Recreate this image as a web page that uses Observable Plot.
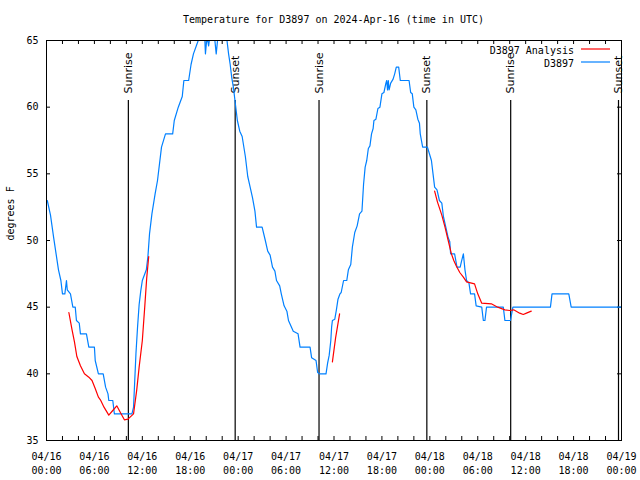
<!DOCTYPE html>
<html><head><meta charset="utf-8">
<script src="https://cdn.jsdelivr.net/npm/d3@7"></script>
<script src="https://cdn.jsdelivr.net/npm/@observablehq/plot@0.6"></script>
<style>
body{margin:0;background:#fff;}
#title{font:10px "DejaVu Sans Mono",monospace;height:20px;line-height:20px;padding-top:10px;padding-left:46px;width:575px;text-align:center;color:#000;}
</style></head><body>
<div id="title">Temperature for D3897 on 2024-Apr-16 (time in UTC)</div>
<div id="chart"></div>
<script>
// hours since 2024-04-16 00:00 UTC
const obsHours = [0.1,0.5,0.9,1.2,1.5,1.8,2.0,2.3,2.5,2.6,3.0,3.3,3.6,3.75,4.1,4.25,5.0,5.3,6.0,6.1,6.5,7.1,7.4,7.7,7.8,8.3,8.5,10.7,10.9,11.2,11.4,11.6,11.8,12.0,12.5,12.7,12.9,13.2,13.6,13.9,14.4,14.9,15.8,16.0,16.5,17.0,17.2,17.8,18.1,18.4,19.0,19.4,19.8,19.9,20.1,20.3,20.5,21.0,21.25,21.5,22.0,22.6,22.8,23.0,23.2,23.4,23.6,23.9,24.2,24.5,24.9,25.2,25.5,25.8,26.1,26.3,27.0,27.4,27.7,28.0,28.3,28.6,28.8,29.2,29.4,29.75,30.1,30.3,30.9,31.5,31.75,33.0,33.2,33.75,33.95,34.2,35.0,35.2,35.4,35.6,35.7,35.8,36.1,36.3,36.5,36.75,36.9,37.2,37.6,37.8,38.1,38.3,38.6,38.9,39.2,39.5,39.7,39.9,40.1,40.3,40.5,40.7,40.9,41.0,41.25,41.5,41.75,42.0,42.25,42.5,42.6,42.7,42.8,42.9,43.1,43.4,43.6,43.8,44.1,44.3,45.4,45.6,45.8,46.0,46.25,46.5,46.7,46.8,47.1,47.7,47.9,48.2,48.4,48.6,48.9,49.2,49.5,49.7,50.0,50.3,50.5,50.6,51.1,51.4,51.8,51.95,52.2,52.4,52.6,52.9,53.1,53.6,53.8,54.5,54.7,54.9,55.1,57.2,57.4,58.1,58.4,63.1,63.3,65.4,65.7,72.0];
const obsTemp = [53.0,51.9,50.2,49.0,47.8,47.0,46.0,46.0,47.0,46.3,46.0,45.0,45.0,44.0,43.8,43.0,43.0,42.0,42.0,41.0,40.0,40.0,39.0,38.5,38.0,38.0,37.0,37.0,37.5,41.5,43.5,45.2,46.2,47.0,47.8,48.8,50.5,52.0,53.5,54.5,57.0,58.0,58.0,59.0,60.0,60.8,62.0,62.0,63.2,64.0,65.0,65.8,65.4,64.0,65.3,64.6,65.5,65.5,64.0,65.5,66.0,65.0,64.0,63.2,62.2,61.5,60.5,59.0,58.2,57.8,56.3,54.8,54.0,53.2,52.2,51.0,51.0,50.0,49.2,48.9,48.0,47.7,47.0,46.6,46.0,45.1,44.7,44.0,43.2,43.0,42.0,42.0,41.2,41.0,40.1,40.0,40.0,40.8,41.4,42.5,43.5,44.0,44.1,44.8,45.6,46.0,46.1,47.0,47.0,47.8,48.2,49.5,50.6,51.1,52.0,52.2,54.2,55.5,56.0,56.9,57.1,58.0,58.4,59.0,59.1,59.9,60.0,61.0,61.1,61.8,62.0,61.3,62.0,61.3,61.8,62.1,62.5,63.0,63.0,62.0,62.0,61.1,61.0,60.0,59.8,59.1,58.8,58.0,57.0,57.0,56.6,56.0,55.0,54.0,53.8,53.0,52.8,51.8,51.0,50.2,49.9,49.0,49.0,48.0,48.0,48.4,49.0,47.8,47.0,46.8,46.0,46.0,45.1,45.0,44.0,44.0,45.0,45.0,44.0,44.0,45.0,45.0,46.0,46.0,45.0,45.0];

const anaHours = [2.8,3.2,3.5,3.8,4.25,4.75,5.3,5.7,6.1,6.5,6.75,7.2,7.8,8.3,8.8,9.25,9.75,10.2,10.9,11.3,11.6,12.0,12.3,12.55,12.8,
                  35.8,36.2,36.7,
                  48.6,48.95,49.5,49.9,50.3,50.7,51.0,51.3,51.75,52.2,52.6,53.6,54.0,54.5,55.7,56.5,57.4,58.0,58.5,59.25,59.7,60.1,60.7];
const anaTemp  = [44.6,43.3,42.4,41.3,40.6,40.0,39.75,39.5,38.9,38.25,38.05,37.5,36.9,37.25,37.6,37.1,36.55,36.6,37.0,38.8,40.5,42.5,45.0,47.2,48.8,
                  40.9,42.7,44.5,
                  53.7,52.9,51.9,51.0,50.0,49.0,48.5,48.1,47.6,47.25,46.9,46.75,46.0,45.3,45.25,45.0,44.8,44.75,44.8,44.55,44.45,44.55,44.7];
const anaSeg   = [1,1,1,1,1,1,1,1,1,1,1,1,1,1,1,1,1,1,1,1,1,1,1,1,1,
                  2,2,2,
                  3,3,3,3,3,3,3,3,3,3,3,3,3,3,3,3,3,3,3,3,3,3,3];

const sunHours  = [10.25, 23.625, 34.125, 47.625, 58.125, 71.625];
const sunLabels = ["Sunrise","Sunset","Sunrise","Sunset","Sunrise","Sunset"];

const xTickHours  = [0,6,12,18,24,30,36,42,48,54,60,66,72];
const xTickLabels = ["04/16\n00:00","04/16\n06:00","04/16\n12:00","04/16\n18:00","04/17\n00:00","04/17\n06:00","04/17\n12:00","04/17\n18:00","04/18\n00:00","04/18\n06:00","04/18\n12:00","04/18\n18:00","04/19\n00:00"];
const xMinorHours = d3.range(0, 73, 2);
const yTicks = [35,40,45,50,55,60,65];

const seriesNames = ["D3897 Analysis","D3897"];
const seriesColors = ["#ff0000","#0080ff"];

const obs = obsHours.map((h,i)=>({h, t: obsTemp[i]}));
const ana = anaHours.map((h,i)=>({h, t: anaTemp[i], seg: anaSeg[i]}));
const sun = sunHours.map((h,i)=>({h, label: sunLabels[i]}));
const sunLineTop = 60.5;

const svg = Plot.plot({
  width: 640, height: 450,
  marginTop: 10, marginBottom: 40, marginLeft: 46, marginRight: 19,
  style: {fontFamily: "DejaVu Sans Mono", fontSize: "10px", background: "white", color: "black"},
  x: {domain: [0,72], axis: null},
  y: {domain: [35,65], axis: null},
  marks: [
    Plot.ruleX(xMinorHours, {x: d=>d, insetTop: 396, stroke: "black"}),
    Plot.ruleX(xMinorHours, {x: d=>d, insetBottom: 396, stroke: "black"}),
    Plot.ruleY(yTicks, {y: d=>d, insetRight: 571, stroke: "black"}),
    Plot.ruleY(yTicks, {y: d=>d, insetLeft: 571, stroke: "black"}),
    Plot.ruleX(sun, {x: "h", y1: 35, y2: sunLineTop, stroke: "black", strokeWidth: 1.2}),
    Plot.text(sun, {x: "h", y: sunLineTop, text: "label", rotate: -90, textAnchor: "start", dy: -7, fontFamily: "DejaVu Sans", fontSize: 11, fill: "black"}),
    Plot.line(obs, {x: "h", y: "t", stroke: seriesColors[1], strokeWidth: 1.2, clip: true}),
    Plot.line(ana, {x: "h", y: "t", z: "seg", stroke: seriesColors[0], strokeWidth: 1.2, clip: true}),
    Plot.frame({stroke: "black"}),
    Plot.text(xTickHours, {x: d=>d, text: (d,i)=>xTickLabels[i], frameAnchor: "bottom", lineAnchor: "top", dy: 10, lineHeight: 1.4, fill: "black"}),
    Plot.text(yTicks, {y: d=>d, text: d=>String(d), frameAnchor: "left", textAnchor: "end", dx: -8, fill: "black"}),
    Plot.text(["degrees F"], {text: d=>d, frameAnchor: "left", dx: -36, rotate: -90, fill: "black"})
  ]
});

// legend (top-right inside the frame)
const g = d3.select(svg).append("g").attr("font-family","DejaVu Sans Mono").attr("font-size",10);
seriesNames.forEach((name,i)=>{
  const y = 20 + i*13;
  g.append("text").attr("x", 574).attr("y", y+4).attr("text-anchor","end").attr("fill","black").text(name);
  g.append("line").attr("x1",581).attr("x2",610).attr("y1",y-1).attr("y2",y-1).attr("stroke",seriesColors[i]).attr("stroke-width",1.2);
});

document.getElementById("chart").appendChild(svg);
</script>
</body></html>
